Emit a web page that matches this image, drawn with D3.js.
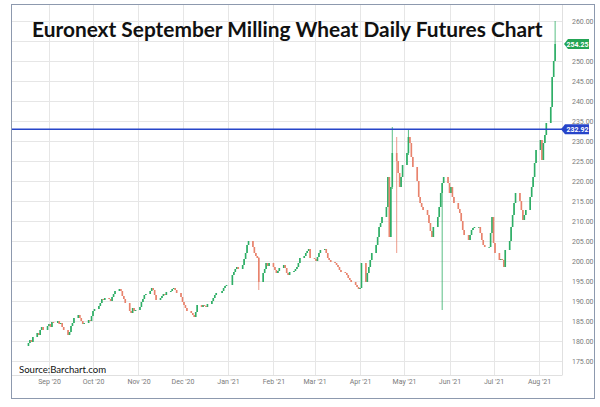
<!DOCTYPE html>
<html>
<head>
<meta charset="utf-8">
<script src="https://cdn.jsdelivr.net/npm/d3@7"></script>
<style>
  body { margin: 0; background: #fff; }
  svg { display: block; }
</style>
</head>
<body>
<script>
// daily closes, one trading day each, starting 2020-08-18 (weekends + holidays skipped)
var startDate = "2020-08-18";
var firstOpen = 178.75;
var holidays = ["2020-12-25", "2021-01-01"];

var closes = [
  179.5, 180.25, 179.75, 181,
  182, 181.5, 182.75, 183.5, 182.75,
  183.75, 184.25, 183.5, 184.75, 184.5,
  185, 184.25, 184.5, 183.5, 182.75,
  181.5, 182.25, 183.75, 184.5, 185.75,
  186.5, 185.75, 185, 184.25, 184.5,
  185.25, 185, 186.25, 187.5, 188,
  188.75, 189.5, 190.5, 190.25, 190.75,
  190.5, 190, 191, 191.75, 192.5,
  193, 192.5, 191.25, 190.5, 189.5,
  187.5, 187, 188.25, 187.5, 187.75,
  188.5, 189.75, 190.5, 191.5, 191.75,
  192.5, 193.25, 192.75, 191.5, 190.25,
  190.75, 191.25, 191.75, 191.5, 192.25,
  192.5, 193, 193.25, 192.75, 192,
  191, 189.75, 189, 188.25, 187.5,
  187, 186.5, 186, 187.25, 189,
  188.5, 189, 188.75, 188.5, 189.25,
  190, 190.75, 191.5, 192,
  192.5, 193.25, 193.75, 194,
  196.5, 197.25, 198, 198.5, 198,
  199, 200.5, 202, 204, 205,
  203.5, 202, 201.25, 200.75, 194.75,
  197, 198, 199.5, 198.75, 199.5,
  198.5, 197.75, 197, 197.5, 198.25,
  199, 198.25, 197, 196.5, 197.25,
  197.5, 198, 198.5, 199.5, 200.75,
  201.25, 202, 202.5, 203, 200.75,
  200.5, 200, 201, 202, 202.75,
  203, 202, 200.75, 200.25, 199.75,
  199.5, 199, 198.5, 197.75, 197.25,
  197, 196.5, 195.75, 195.25, 194.75,
  194, 193.5, 193, 193.25, 199.5,
  194.75, 197, 198.5, 200.25, 202,
  204, 206, 208.5, 209.5, 211,
  213.5, 221, 206, 218.5, 227,
  225, 222, 218.5, 221, 224,
  227, 231, 229.5, 226, 223.5,
  220, 216, 214.5, 213.5, 212.75,
  211.5, 209.5, 207.5, 206, 208.5,
  211, 213.5, 217, 219.5, 221,
  219.5, 217, 218.5, 216, 214.5,
  213, 212, 210, 207.75, 206.5,
  205.25, 206.5, 207.75, 208.25, 208.5,
  208.5, 207, 205.25, 204, 203.5,
  203.5, 207, 211, 204.5, 202,
  200.25, 200.5, 200.25, 198.5, 202.75,
  205, 208.5, 211.5, 214.5, 217,
  215, 212.75, 210.25, 211.5, 212.75,
  216, 218.5, 221, 224.5, 227.75,
  230.25, 225.25, 229.5, 231.5, 234.5,
  238.5, 246, 250, 254.25
];

// days whose wicks reach far beyond the body: [date, high, low]
var spikes = [
  ["2021-01-22", 201, 192.75],
  ["2021-04-23", 233.5, 218],
  ["2021-04-26", 231, 202],
  ["2021-05-04", 233, 226.5],
  ["2021-05-27", 218, 187.75],
  ["2021-08-12", 260, 250]
];

var yTicks = d3.range(175, 260.01, 5);
var hiddenTickLabels = [255];   // covered by the last-price tag in the original
var lastPrice = 254.25;
var levelPrice = 232.92;

var svg = d3.select("body").append("svg")
    .attr("width", 600)
    .attr("height", 407);

var frame = {left: 11.5, top: 4.5, right: 594.5, bottom: 398.5};
var plotRight = 562, plotBottom = 375;

var fmtDay = d3.timeFormat("%Y-%m-%d");
var parse = d3.timeParse("%Y-%m-%d");

// build the trading-day calendar
var dates = [];
var day = parse(startDate);
while (dates.length < closes.length) {
    var wd = day.getDay();
    if (wd != 0 && wd != 6 && holidays.indexOf(fmtDay(day)) < 0) dates.push(new Date(day));
    day = d3.timeDay.offset(day, 1);
}

var spikeMap = {};
spikes.forEach(function(s){ spikeMap[s[0]] = s; });

var candles = closes.map(function(c, i){
    var o = i == 0 ? firstOpen : closes[i-1];
    var hi = Math.max(o, c), lo = Math.min(o, c);
    var s = spikeMap[fmtDay(dates[i])];
    if (s) { hi = Math.max(hi, s[1]); lo = Math.min(lo, s[2]); }
    return {date: dates[i], open: o, close: c, high: hi, low: lo};
});

var x = d3.scaleTime()
    .domain([parse("2020-09-01"), parse("2021-08-01")])
    .range([49, 539]);

var y = d3.scaleLinear()
    .domain([175, 260])
    .range([361, 21]);

// frame
svg.append("rect")
    .attr("x", frame.left).attr("y", frame.top)
    .attr("width", frame.right - frame.left)
    .attr("height", frame.bottom - frame.top)
    .attr("fill", "#fff")
    .attr("stroke", "#8d99ae")
    .attr("stroke-width", 1);

// grid
var grid = svg.append("g").attr("class", "grid");
grid.selectAll("line.h")
    .data(yTicks)
    .enter().append("line")
        .attr("class", "h")
        .attr("x1", frame.left + 0.5)
        .attr("x2", plotRight)
        .attr("y1", d => Math.round(y(d)) + 0.5)
        .attr("y2", d => Math.round(y(d)) + 0.5)
        .attr("stroke", "#e6e6e6");

var months = x.ticks(d3.timeMonth.every(1));
grid.selectAll("line.v")
    .data(months)
    .enter().append("line")
        .attr("class", "v")
        .attr("x1", d => Math.round(x(d)) + 0.5)
        .attr("x2", d => Math.round(x(d)) + 0.5)
        .attr("y1", frame.top + 0.5)
        .attr("y2", plotBottom)
        .attr("stroke", "#e6e6e6");

grid.append("line")
    .attr("x1", plotRight + 0.5).attr("x2", plotRight + 0.5)
    .attr("y1", frame.top + 0.5).attr("y2", plotBottom)
    .attr("stroke", "#e0e0e0");
grid.append("line")
    .attr("x1", frame.left + 0.5).attr("x2", plotRight + 0.5)
    .attr("y1", plotBottom + 0.5).attr("y2", plotBottom + 0.5)
    .attr("stroke", "#e0e0e0");

// y axis (right)
var yAxis = d3.axisRight(y)
    .tickValues(yTicks.filter(d => hiddenTickLabels.indexOf(d) < 0))
    .tickSize(0)
    .tickPadding(0)
    .tickFormat(d3.format(".2f"));
var yAxisGroup = svg.append("g")
    .attr("transform", "translate(572,0)")
    .call(yAxis);
yAxisGroup.select(".domain").remove();
yAxisGroup.selectAll("text")
    .attr("font-family", "Roboto, 'Liberation Sans', sans-serif")
    .attr("font-size", 7)
    .attr("fill", "#7a7a7a");

// x axis
var xAxis = d3.axisBottom(x)
    .tickValues(months)
    .tickSize(0)
    .tickPadding(0)
    .tickFormat(d3.timeFormat("%b '%y"));
var xAxisGroup = svg.append("g")
    .attr("transform", "translate(0,379)")
    .call(xAxis);
xAxisGroup.select(".domain").remove();
xAxisGroup.selectAll("text")
    .attr("font-family", "Roboto, 'Liberation Sans', sans-serif")
    .attr("font-size", 7)
    .attr("fill", "#7a7a7a");

// candles
var up = "#2eae66", down = "#e8836d";
var cg = svg.append("g").attr("class", "candles");
cg.selectAll("line")
    .data(candles)
    .enter().append("line")
        .attr("x1", d => x(d.date))
        .attr("x2", d => x(d.date))
        .attr("y1", d => y(d.high))
        .attr("y2", d => y(d.low))
        .attr("stroke", d => d.close >= d.open ? up : down)
        .attr("stroke-width", 0.8);
cg.selectAll("rect")
    .data(candles)
    .enter().append("rect")
        .attr("x", d => x(d.date) - 0.8)
        .attr("width", 1.6)
        .attr("y", d => y(Math.max(d.open, d.close)))
        .attr("height", d => Math.max(0.8, y(Math.min(d.open, d.close)) - y(Math.max(d.open, d.close))))
        .attr("fill", d => d.close >= d.open ? up : down);

// level line
svg.append("line")
    .attr("x1", frame.left + 0.5).attr("x2", plotRight + 3)
    .attr("y1", y(levelPrice)).attr("y2", y(levelPrice))
    .attr("stroke", "#2745c9")
    .attr("stroke-width", 1.4);

// price tags
function tag(price, color, tipX) {
    var cy = y(price);
    var g = svg.append("g");
    g.append("path")
        .attr("d", "M" + tipX + "," + cy + "L" + (tipX + 4) + "," + (cy - 5) + "L" + 589 + "," + (cy - 5)
            + "L" + 589 + "," + (cy + 5) + "L" + (tipX + 4) + "," + (cy + 5) + "Z")
        .attr("fill", color);
    g.append("text")
        .attr("x", 577.5).attr("y", cy + 2.5)
        .attr("text-anchor", "middle")
        .attr("font-family", "Roboto, 'Liberation Sans', sans-serif")
        .attr("font-size", 7)
        .attr("font-weight", "bold")
        .attr("fill", "#fff")
        .text(d3.format(".2f")(price));
}
tag(lastPrice, "#23a455", 564);
tag(levelPrice, "#2745c9", 561);

// title
var title = svg.append("text")
    .attr("x", 32).attr("y", 37)
    .attr("font-family", "Lato, 'Open Sans', sans-serif")
    .attr("font-weight", "bold")
    .attr("font-size", 22)
    .attr("fill", "#111")
    .text("Euronext September Milling Wheat Daily Futures Chart");
var tw = title.node().getComputedTextLength();
title.attr("font-size", 22 * 511 / tw);

// source
svg.append("text")
    .attr("x", 19).attr("y", 373)
    .attr("font-family", "Lato, 'Open Sans', sans-serif")
    .attr("font-size", 9.6)
    .attr("fill", "#111")
    .text("Source:Barchart.com");
</script>
</body>
</html>
